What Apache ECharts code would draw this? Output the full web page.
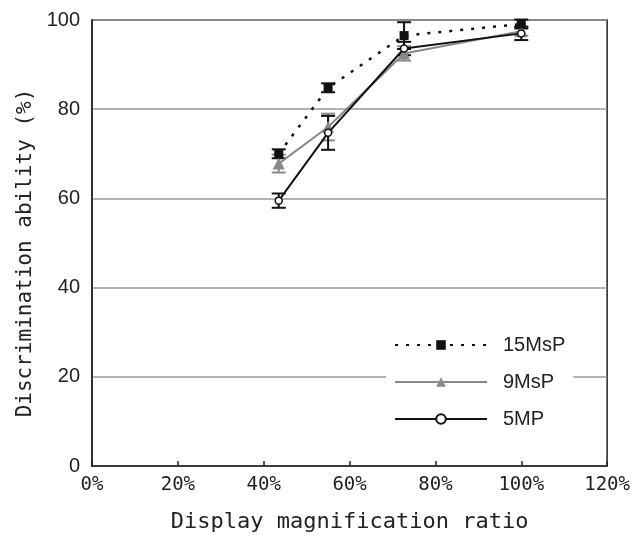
<!DOCTYPE html>
<html>
<head>
<meta charset="utf-8">
<script src="https://cdn.jsdelivr.net/npm/echarts@6/dist/echarts.min.js"></script>
<style>html,body{margin:0;padding:0;background:#fff}#main{width:633px;height:539px}</style>
</head>
<body>
<div id="main"></div>
<script>
var ratios = [43.5, 55, 72.7, 100];
var s15 = [70.0, 84.8, 96.5, 99.1];
var e15 = [1.0, 1.0, 3.0, 1.0];
var s9 = [67.8, 76.0, 92.5, 97.5];
var e9 = [2.0, 3.0, 1.6, 1.0];
var s5 = [59.5, 74.7, 93.6, 97.0];
var e5 = [1.6, 3.8, 1.5, 1.5];
var xTicks = ['0%', '20%', '40%', '60%', '80%', '100%', '120%'];
var yTicks = [0, 20, 40, 60, 80, 100];

var MONO = '"DejaVu Sans Mono", monospace';
var SANS = '"Liberation Sans", Arial, sans-serif';

function pts(vals) { return ratios.map(function (x, i) { return [x, vals[i]]; }); }
function errData(vals, errs) { return ratios.map(function (x, i) { return [x, vals[i] - errs[i], vals[i] + errs[i]]; }); }
function errSeries(vals, errs, color) {
  return {
    type: 'custom', silent: true, z: 1,
    data: errData(vals, errs),
    renderItem: function (params, api) {
      var lo = api.coord([api.value(0), api.value(1)]);
      var hi = api.coord([api.value(0), api.value(2)]);
      var w = 7;
      var st = { stroke: color, lineWidth: 2 };
      return { type: 'group', children: [
        { type: 'line', shape: { x1: lo[0], y1: lo[1], x2: hi[0], y2: hi[1] }, style: st },
        { type: 'line', shape: { x1: lo[0] - w, y1: lo[1], x2: lo[0] + w, y2: lo[1] }, style: st },
        { type: 'line', shape: { x1: hi[0] - w, y1: hi[1], x2: hi[0] + w, y2: hi[1] }, style: st }
      ]};
    }
  };
}

var chart = echarts.init(document.getElementById('main'), null, { renderer: 'canvas' });
chart.setOption({
  animation: false,
  backgroundColor: '#fff',
  grid: { left: 92, right: 25, top: 20, bottom: 73, show: true, borderColor: '#222', borderWidth: 1.5, backgroundColor: 'transparent' },
  xAxis: {
    type: 'value', min: 0, max: 120, interval: 20,
    name: 'Display magnification ratio', nameLocation: 'middle', nameGap: 45,
    nameTextStyle: { fontFamily: MONO, fontSize: 22, color: '#222' },
    axisLine: { show: true, lineStyle: { color: '#222', width: 1.5 } },
    axisTick: { show: true, inside: true, length: 5, lineStyle: { color: '#222', width: 1.5 } },
    axisLabel: { fontFamily: MONO, fontSize: 19, color: '#222', margin: 10,
      formatter: function (v) { return xTicks[Math.round(v / 20)]; } },
    splitLine: { show: false }
  },
  yAxis: {
    type: 'value', min: 0, max: 100, interval: 20,
    name: 'Discrimination ability (%)', nameLocation: 'middle', nameGap: 55,
    nameTextStyle: { fontFamily: MONO, fontSize: 21, color: '#222', padding: [0, 20, 0, 0] },
    axisLine: { show: true, lineStyle: { color: '#222', width: 1.5 } },
    axisTick: { show: false },
    axisLabel: { fontFamily: SANS, fontSize: 20, color: '#222', margin: 12,
      formatter: function (v) { return String(yTicks[Math.round(v / 20)]); } },
    splitLine: { show: true, lineStyle: { color: '#999', width: 1.5 } }
  },
  legend: {
    orient: 'vertical', left: 386, top: 329,
    backgroundColor: '#fff', padding: [6, 8, 6, 8],
    itemWidth: 92, itemHeight: 12, itemGap: 17,
    textStyle: { fontFamily: SANS, fontSize: 20, color: '#222', padding: [0, 0, 0, 11] },
    data: ['15MsP', '9MsP', '5MP']
  },
  series: [
    errSeries(s9, e9, '#888'),
    errSeries(s5, e5, '#111'),
    errSeries(s15, e15, '#111'),
    { name: '9MsP', type: 'line', data: pts(s9), z: 3,
      lineStyle: { color: '#888', width: 2 }, itemStyle: { color: '#888' },
      symbol: 'triangle', symbolSize: 12 },
    { name: '5MP', type: 'line', data: pts(s5), z: 4,
      lineStyle: { color: '#111', width: 2 }, itemStyle: { color: '#fff', borderColor: '#111', borderWidth: 1.5 },
      symbol: 'circle', symbolSize: 7 },
    { name: '15MsP', type: 'line', data: pts(s15), z: 5,
      lineStyle: { color: '#111', width: 2.5, type: [3, 8] }, itemStyle: { color: '#111' },
      symbol: 'rect', symbolSize: 9 }
  ]
});
</script>
</body>
</html>
